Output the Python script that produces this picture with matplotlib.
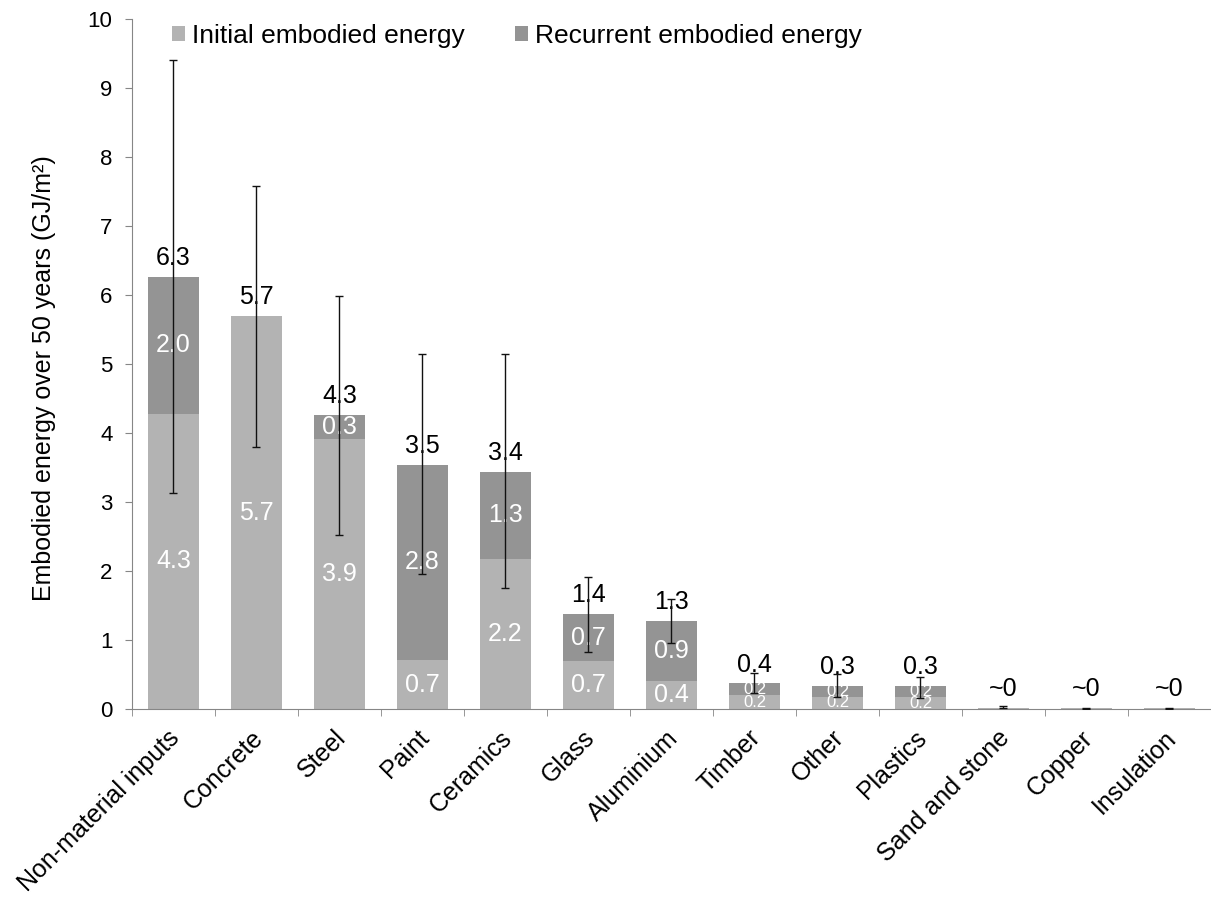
import numpy as np
import matplotlib.pyplot as plt
import matplotlib.transforms as mtransforms

plt.rcParams["font.family"] = ["Liberation Sans", "DejaVu Sans"]

categories = ["Non-material inputs", "Concrete", "Steel", "Paint", "Ceramics", "Glass",
              "Aluminium", "Timber", "Other", "Plastics", "Sand and stone", "Copper", "Insulation"]
initial = [4.28, 5.69, 3.92, 0.71, 2.18, 0.69, 0.41, 0.20, 0.18, 0.17, 0.02, 0.01, 0.01]
recurrent = [1.98, 0.0, 0.34, 2.83, 1.26, 0.69, 0.87, 0.17, 0.16, 0.16, 0.0, 0.0, 0.0]
err_low = [3.13, 3.80, 2.52, 1.95, 1.75, 0.83, 0.96, 0.23, 0.17, 0.16, 0.01, 0.005, 0.005]
err_high = [9.40, 7.58, 5.98, 5.15, 5.15, 1.91, 1.59, 0.52, 0.51, 0.46, 0.04, 0.02, 0.02]

c_init = "#b3b3b3"
c_rec = "#949494"

fig = plt.figure(figsize=(12.11, 9.01), dpi=100)
ax = fig.add_axes([0.109, 0.2131, 0.891, 0.7658])

x = np.arange(len(categories))
initial = np.array(initial)
recurrent = np.array(recurrent)
total = initial + recurrent
w = 0.62

ax.bar(x, initial, w, color=c_init, label="Initial embodied energy", zorder=2)
ax.bar(x, recurrent, w, bottom=initial, color=c_rec, label="Recurrent embodied energy", zorder=2)

# totals above bars
for xi, t in zip(x, total):
    lab = "~0" if t < 0.05 else f"{t:.1f}"
    ax.annotate(lab, (xi, t), xytext=(0, 5), textcoords="offset points",
                ha="center", va="bottom", fontsize=18, zorder=3)

# segment labels
for xi, a, b in zip(x, initial, recurrent):
    small = (a + b) < 0.5
    fs = 12 if small else 18
    if a >= 0.1:
        ax.text(xi, a / 2, f"{a:.1f}", ha="center", va="center", color="white",
                fontsize=fs, zorder=3)
    if b >= 0.1:
        ax.text(xi, a + b / 2, f"{b:.1f}", ha="center", va="center", color="white",
                fontsize=fs, zorder=3)

# error bars
mid = (np.array(err_low) + np.array(err_high)) / 2
yerr = [mid - np.array(err_low), np.array(err_high) - mid]
ax.errorbar(x, mid, yerr=yerr, fmt="none", ecolor="#111111", elinewidth=1.0,
            capsize=3, capthick=1.0, zorder=4)

ax.set_xlim(-0.5, len(categories) - 0.5)
ax.set_ylim(0, 10)
ax.set_yticks(range(0, 11))
ax.tick_params(axis="y", labelsize=16, length=5, pad=9, color="#868686")
ax.set_xticks(x)
ax.set_xticklabels(categories, rotation=45, ha="right", va="top",
                   rotation_mode="anchor", fontsize=18)
ax.tick_params(axis="x", length=0, pad=12)
shift = mtransforms.ScaledTranslation(-6 / 100, 0, fig.dpi_scale_trans)
for lbl in ax.get_xticklabels():
    lbl.set_transform(lbl.get_transform() + shift)
ax.set_xticks(np.arange(-0.5, len(categories)), minor=True)
ax.tick_params(axis="x", which="minor", length=5, color="#868686")
ax.set_ylabel("Embodied energy over 50 years (GJ/m²)", fontsize=18)
ax.yaxis.set_label_coords(-0.070, 0.48)

for s in ["top", "right"]:
    ax.spines[s].set_visible(False)
for s in ["left", "bottom"]:
    ax.spines[s].set_color("#868686")

ax.legend(loc="center left", bbox_to_anchor=(0.037, 0.975), ncol=2, frameon=False,
          fontsize=19, handlelength=0.5, handleheight=0.5, handletextpad=0.27,
          columnspacing=1.9, borderpad=0, borderaxespad=0)

fig.savefig("out.png", dpi=100)
